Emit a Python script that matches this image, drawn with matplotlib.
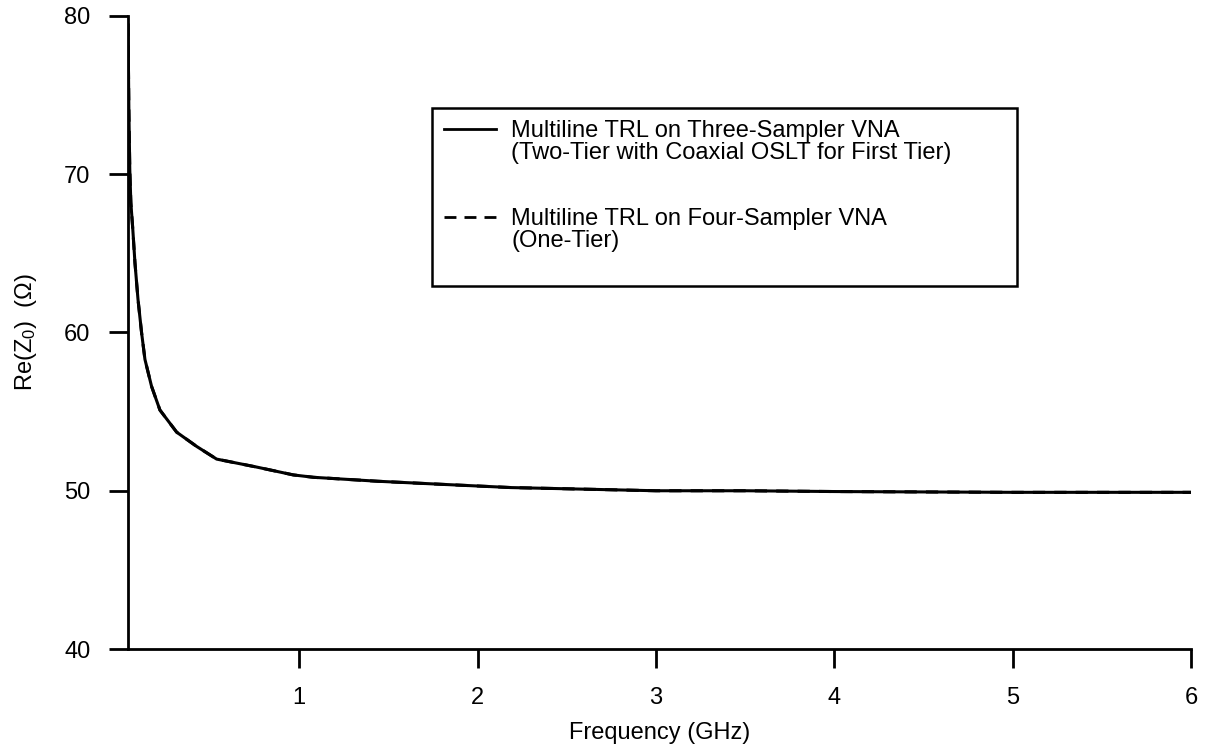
import matplotlib
matplotlib.use("Agg")
import matplotlib.pyplot as plt
from matplotlib.lines import Line2D

plt.rcParams['font.family'] = ['Liberation Sans', 'DejaVu Sans']
plt.rcParams['mathtext.fontset'] = 'custom'
plt.rcParams['mathtext.rm'] = 'Liberation Sans'
plt.rcParams['mathtext.it'] = 'Liberation Sans'

# Frequency (GHz) and Re(Z0) (ohm)
freq_ghz = [0.040, 0.045, 0.050, 0.056, 0.067, 0.079, 0.096, 0.116, 0.135, 0.172,
            0.219, 0.313, 0.425, 0.537, 0.76, 0.967, 1.08, 1.44, 1.81, 2.19,
            2.6, 3.0, 3.5, 4.0, 5.0, 6.0]
re_z0_three_sampler = [79.5, 74.0, 70.3, 68.2, 66.5, 64.4, 62.1, 60.0, 58.3, 56.6,
                       55.1, 53.7, 52.8, 52.0, 51.5, 51.0, 50.85, 50.6, 50.4, 50.2,
                       50.1, 50.0, 50.0, 49.95, 49.9, 49.9]
# the four-sampler curve lies on top of the three-sampler curve
re_z0_four_sampler = [79.5, 74.0, 70.3, 68.2, 66.5, 64.4, 62.1, 60.0, 58.3, 56.6,
                      55.1, 53.7, 52.8, 52.0, 51.5, 51.0, 50.85, 50.6, 50.4, 50.2,
                      50.1, 50.0, 50.0, 49.95, 49.9, 49.9]

x_ticks = [1, 2, 3, 4, 5, 6]
y_ticks = [40, 50, 60, 70, 80]

label_solid = ["Multiline TRL on Three-Sampler VNA",
               "(Two-Tier with Coaxial OSLT for First Tier)"]
label_dashed = ["Multiline TRL on Four-Sampler VNA",
                "(One-Tier)"]

W, H = 1210, 755
fig = plt.figure(figsize=(W / 100, H / 100), dpi=100)
ax = fig.add_axes([128 / W, 1 - 649 / H, (1191 - 128) / W, (649 - 16) / H])

ax.plot(freq_ghz, re_z0_three_sampler, color='black', lw=2.2, solid_capstyle='round')
ax.plot(freq_ghz, re_z0_four_sampler, color='black', lw=2.2, ls=(0, (4, 3)))

ax.set_xlim(0.04, 6)
ax.set_ylim(40, 80)
ax.set_xticks(x_ticks)
ax.set_yticks(y_ticks)
for s in ['top', 'right']:
    ax.spines[s].set_visible(False)
for s in ['left', 'bottom']:
    ax.spines[s].set_linewidth(2)
ax.tick_params(axis='both', direction='out', length=14, width=2, labelsize=17)
ax.tick_params(axis='y', pad=13)
ax.tick_params(axis='x', pad=13)

ax.set_xlabel('Frequency (GHz)', fontsize=17, labelpad=10)
ax.set_ylabel('Re(Z$_0$)  (Ω)', fontsize=17, labelpad=18)

blank = Line2D([], [], color='none', lw=0)
handles = [Line2D([], [], color='black', lw=2),
           blank, blank, blank,
           Line2D([], [], color='black', lw=2, ls=(0, (4.3, 2.9))),
           blank, blank]
labels = [label_solid[0], label_solid[1], ' ', ' ', label_dashed[0], label_dashed[1], ' ']
leg = ax.legend(handles, labels, loc='upper left',
                bbox_to_anchor=(432 / W, 1 - 283 / H, (1017 - 432) / W, (283 - 108) / H),
                bbox_transform=fig.transFigure, mode='expand', borderaxespad=0,
                fontsize=17, frameon=True, fancybox=False, edgecolor='black',
                framealpha=1, handlelength=2.2, handletextpad=0.65,
                labelspacing=0.0, borderpad=0.5)
leg.get_frame().set_linewidth(1.8)

fig.savefig('out.png', dpi=100)
